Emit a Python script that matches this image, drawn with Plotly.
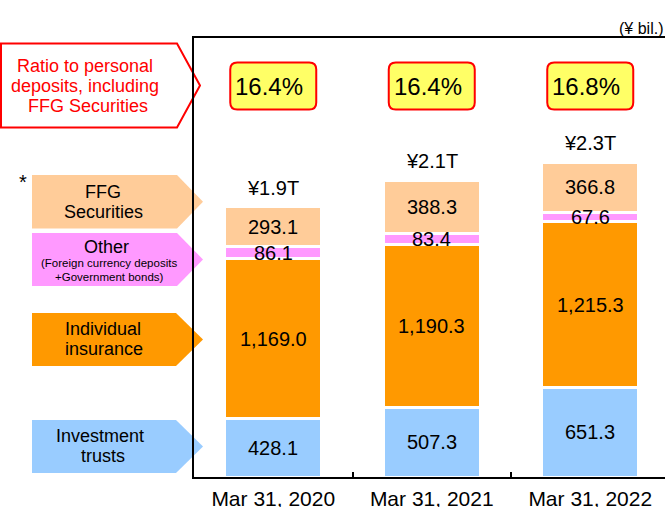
import plotly.graph_objects as go

categories = ["Mar 31, 2020", "Mar 31, 2021", "Mar 31, 2022"]
investment_trusts = [428.1, 507.3, 651.3]
individual_insurance = [1169.0, 1190.3, 1215.3]
other = [86.1, 83.4, 67.6]
ffg_securities = [293.1, 388.3, 366.8]
totals_text = ["¥1.9T", "¥2.1T", "¥2.3T"]
ratios_text = ["16.4%", "16.4%", "16.8%"]
series_names = ["Investment trusts", "Individual insurance", "Other", "FFG Securities"]

FONT = "Liberation Sans, Arial, sans-serif"
W_PX, H_PX = 665, 507
L, R, T, B = 194, 0, 38, 30
PW = W_PX - L - R
PH = H_PX - T - B
BOTTOM = H_PX - B


def px(x):
    return (x - L) / PW


def py(y):
    return (BOTTOM - y) / PH


series = [investment_trusts, individual_insurance, other, ffg_securities]
colors = ["#99CCFF", "#FF9900", "#FF99FF", "#FFCC99"]

fig = go.Figure()
for name, vals, col in zip(series_names, series, colors):
    fig.add_trace(go.Bar(
        x=categories, y=vals, name=name, width=0.61,
        marker=dict(color=col, line=dict(color="white", width=3)),
        hoverinfo="y+name",
    ))

ann = []
shapes = []

# segment value labels
for i, cat in enumerate(categories):
    base = 0.0
    for vals in series:
        v = vals[i]
        ann.append(dict(x=cat, y=base + v / 2, xref="x", yref="y", text=f"{v:,.1f}",
                        showarrow=False, xanchor="center", yanchor="middle",
                        font=dict(family=FONT, size=20, color="black")))
        base += v
    ann.append(dict(x=cat, y=base, xref="x", yref="y", text=totals_text[i], yshift=19,
                    showarrow=False, xanchor="center", yanchor="middle",
                    font=dict(family=FONT, size=20, color="black")))
    # ratio boxes
    w, h, r = 43, 23.5, 7
    path = (f"M {-w + r},{-h} L {w - r},{-h} Q {w},{-h} {w},{-h + r} L {w},{h - r} "
            f"Q {w},{h} {w - r},{h} L {-w + r},{h} Q {-w},{h} {-w},{h - r} "
            f"L {-w},{-h + r} Q {-w},{-h} {-w + r},{-h} Z")
    shapes.append(dict(type="path", xref="x", yref="paper", xsizemode="pixel", ysizemode="pixel",
                       xanchor=i, yanchor=py(86), path=path,
                       fillcolor="#FFFF66", line=dict(color="#FF0000", width=2), layer="above"))
    ann.append(dict(x=i, y=py(86), xref="x", yref="paper", text=ratios_text[i], xshift=-4,
                    showarrow=False, xanchor="center", yanchor="middle",
                    font=dict(family=FONT, size=24, color="black")))


def pentagon(x0, y0, y1, xs, xp, fill, line_color=None, lw=0):
    ym = (y0 + y1) / 2
    path = (f"M {px(x0)},{py(y0)} L {px(xs)},{py(y0)} L {px(xp)},{py(ym)} "
            f"L {px(xs)},{py(y1)} L {px(x0)},{py(y1)} Z")
    d = dict(type="path", xref="paper", yref="paper", path=path, fillcolor=fill, layer="below",
             line=dict(color=line_color or fill, width=lw))
    return d


shapes.append(pentagon(1, 43.5, 127.5, 177, 200, "white", "#FF0000", 2))
shapes.append(pentagon(32, 175, 228.5, 177, 203, "#FFCC99"))
shapes.append(pentagon(32, 233, 286, 177, 203, "#FF99FF"))
shapes.append(pentagon(32, 313, 366, 176, 203, "#FF9900"))
shapes.append(pentagon(32, 420, 473, 176, 203, "#99CCFF"))


def label(x, y, text, size, color="black"):
    ann.append(dict(x=px(x), y=py(y), xref="paper", yref="paper", text=text, showarrow=False,
                    xanchor="center", yanchor="middle",
                    font=dict(family=FONT, size=size, color=color)))


label(85, 66, "Ratio to personal", 18, "#FF0000")
label(85, 86, "deposits, including", 18, "#FF0000")
label(88, 106, "FFG Securities", 18, "#FF0000")
label(23, 182, "*", 20)
label(103, 192, "FFG", 18)
label(103, 212, "Securities", 18)
label(106, 247, "Other", 18)
label(109, 263, "(Foreign currency deposits", 11.5)
label(109, 277, "+Government bonds)", 11.5)
label(103, 329, "Individual", 18)
label(104, 349, "insurance", 18)
label(100, 436, "Investment", 18)
label(103, 456, "trusts", 18)

ann.append(dict(x=1, y=py(28), xref="paper", yref="paper", text="(¥ bil.)", showarrow=False,
                xanchor="right", yanchor="middle", xshift=0,
                font=dict(family=FONT, size=16, color="black")))

fig.update_layout(
    template="none",
    width=W_PX, height=H_PX,
    margin=dict(l=L, r=R, t=T, b=B, pad=0),
    barmode="stack",
    showlegend=False,
    plot_bgcolor="white", paper_bgcolor="white",
    annotations=ann, shapes=shapes,
    font=dict(family=FONT, color="black"),
)
fig.update_xaxes(
    type="category", range=[-0.5, -0.5 + PW / 158.5], showline=True, linecolor="black",
    linewidth=2, mirror=True, ticks="inside", tickson="boundaries", ticklen=5, tickwidth=2,
    tickcolor="black", showgrid=False, zeroline=False, automargin=False,
    ticklabelstandoff=2,
    tickfont=dict(family=FONT, size=21, color="black"),
)
fig.update_yaxes(
    range=[0, 3210], showline=True, linecolor="black", linewidth=2, mirror=False,
    showticklabels=False, ticks="", showgrid=False, zeroline=False, automargin=False,
)

fig.write_html(
    "out.html",
    config={"displayModeBar": False},
    post_script="document.body.style.margin='0';document.body.style.padding='0';"
                "document.body.style.overflow='hidden';",
)
